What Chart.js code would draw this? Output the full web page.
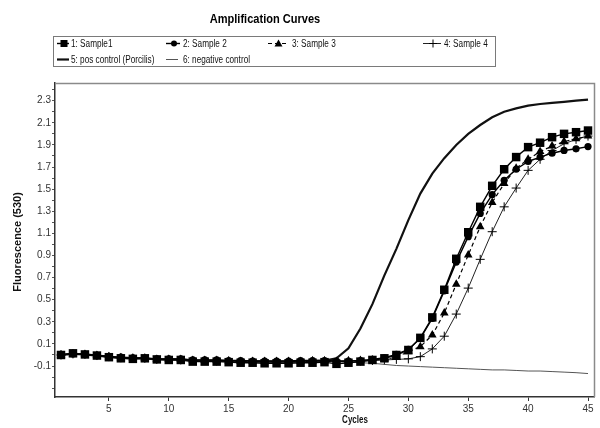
<!DOCTYPE html>
<html>
<head>
<meta charset="utf-8">
<script src="https://cdn.jsdelivr.net/npm/chart.js@4/dist/chart.umd.min.js"></script>
<style>
  html, body { margin: 0; padding: 0; background: #fff; }
  #wrap { width: 600px; height: 428px; position: relative; }
</style>
</head>
<body>
<div id="wrap"><canvas id="c" width="600" height="428"></canvas></div>
<script>
// ---- data ----
const cycles = [1,2,3,4,5,6,7,8,9,10,11,12,13,14,15,16,17,18,19,20,21,22,23,24,25,26,27,28,29,30,31,32,33,34,35,36,37,38,39,40,41,42,43,44,45];

const sample1 = [0.000,0.015,0.005,-0.005,-0.020,-0.030,-0.035,-0.030,-0.040,-0.045,-0.045,-0.060,-0.060,-0.060,-0.065,-0.070,-0.070,-0.075,-0.075,-0.075,-0.070,-0.070,-0.065,-0.080,-0.070,-0.060,-0.045,-0.030,0.000,0.045,0.155,0.340,0.590,0.870,1.110,1.340,1.530,1.680,1.790,1.880,1.920,1.970,2.000,2.015,2.030];

const sample2 = [0.005,0.010,0.005,-0.005,-0.015,-0.020,-0.025,-0.030,-0.035,-0.035,-0.035,-0.045,-0.045,-0.045,-0.050,-0.050,-0.055,-0.055,-0.055,-0.055,-0.050,-0.050,-0.050,-0.055,-0.055,-0.050,-0.040,-0.025,0.005,0.050,0.150,0.330,0.580,0.840,1.070,1.280,1.450,1.580,1.680,1.750,1.790,1.825,1.850,1.865,1.885];

const sample3 = [0.000,0.010,0.005,-0.005,-0.015,-0.025,-0.030,-0.030,-0.040,-0.040,-0.040,-0.050,-0.050,-0.050,-0.055,-0.060,-0.060,-0.060,-0.060,-0.060,-0.060,-0.055,-0.055,-0.060,-0.055,-0.050,-0.045,-0.040,-0.020,0.030,0.075,0.180,0.380,0.640,0.905,1.160,1.380,1.550,1.690,1.770,1.840,1.890,1.930,1.955,1.980];

const sample4 = [0.000,0.010,0.005,-0.005,-0.015,-0.025,-0.030,-0.030,-0.040,-0.040,-0.045,-0.050,-0.050,-0.055,-0.055,-0.060,-0.060,-0.060,-0.060,-0.060,-0.060,-0.055,-0.055,-0.060,-0.055,-0.055,-0.050,-0.045,-0.040,-0.035,-0.015,0.055,0.170,0.370,0.605,0.865,1.115,1.340,1.510,1.670,1.770,1.850,1.910,1.950,1.980];

const posControl = [0.000,0.010,0.005,-0.005,-0.015,-0.025,-0.030,-0.030,-0.040,-0.040,-0.040,-0.050,-0.050,-0.050,-0.055,-0.055,-0.055,-0.060,-0.060,-0.060,-0.055,-0.055,-0.050,-0.030,0.060,0.240,0.460,0.720,0.960,1.220,1.460,1.640,1.780,1.900,2.000,2.080,2.150,2.200,2.230,2.255,2.270,2.280,2.290,2.300,2.310];

const negControl = [0.000,0.010,0.005,-0.005,-0.015,-0.025,-0.030,-0.030,-0.040,-0.040,-0.040,-0.050,-0.050,-0.050,-0.055,-0.055,-0.055,-0.060,-0.060,-0.060,-0.060,-0.060,-0.060,-0.060,-0.065,-0.070,-0.075,-0.085,-0.095,-0.100,-0.105,-0.110,-0.115,-0.120,-0.125,-0.130,-0.135,-0.135,-0.140,-0.145,-0.145,-0.150,-0.155,-0.160,-0.168];

const seriesLabels = ["1: Sample1", "2: Sample 2", "3: Sample 3", "4: Sample 4", "5: pos control (Porcilis)", "6: negative control"];

const xTickValues = [5,10,15,20,25,30,35,40,45];
const yTickValues = [-0.3,-0.2,-0.1,0.0,0.1,0.2,0.3,0.4,0.5,0.6,0.7,0.8,0.9,1.0,1.1,1.2,1.3,1.4,1.5,1.6,1.7,1.8,1.9,2.0,2.1,2.2,2.3,2.4];
const yTickLabels = ["-0.1","0.1","0.3","0.5","0.7","0.9","1.1","1.3","1.5","1.7","1.9","2.1","2.3"];

const chartTitle = "Amplification Curves";
const xTitle = "Cycles";
const yTitle = "Fluorescence (530)";

// ---- chart ----
const SANS = "'Liberation Sans', Arial, sans-serif";

const datasets = [
  { label: seriesLabels[0], data: sample1, borderColor: '#000', backgroundColor: '#000', borderWidth: 1.4,
    pointStyle: 'rect', pointRadius: 6, pointBorderWidth: 0, pointBackgroundColor: '#000' },
  { label: seriesLabels[1], data: sample2, borderColor: '#000', backgroundColor: '#000', borderWidth: 1.4,
    pointStyle: 'circle', pointRadius: 3.6, pointBorderWidth: 0, pointBackgroundColor: '#000' },
  { label: seriesLabels[2], data: sample3, borderColor: '#000', backgroundColor: '#000', borderWidth: 1.2, borderDash: [4, 3],
    pointStyle: 'triangle', pointRadius: 5, pointBorderWidth: 0, pointBackgroundColor: '#000' },
  { label: seriesLabels[3], data: sample4, borderColor: '#222', backgroundColor: '#222', borderWidth: 1,
    pointStyle: 'cross', pointRadius: 4.5, pointBorderWidth: 1, pointBorderColor: '#000' },
  { label: seriesLabels[4], data: posControl, borderColor: '#111', backgroundColor: '#111', borderWidth: 2.2,
    pointRadius: 0 },
  { label: seriesLabels[5], data: negControl, borderColor: '#555', backgroundColor: '#555', borderWidth: 1,
    pointRadius: 0 }
];

const legendSlots = [
  { x0: 57, x1: 69, y: 43, tx: 71 },
  { x0: 166, x1: 180, y: 43, tx: 183 },
  { x0: 268, x1: 287, y: 43, tx: 292 },
  { x0: 423, x1: 441, y: 43, tx: 444 },
  { x0: 57, x1: 69, y: 59, tx: 71 },
  { x0: 166, x1: 178, y: 59, tx: 183 }
];

function drawMarker(ctx, style, x, y) {
  ctx.save();
  ctx.fillStyle = '#000';
  ctx.strokeStyle = '#000';
  ctx.setLineDash([]);
  if (style === 'rect') { ctx.fillRect(x - 3.5, y - 3.5, 7, 7); }
  else if (style === 'circle') { ctx.beginPath(); ctx.arc(x, y, 3, 0, Math.PI * 2); ctx.fill(); }
  else if (style === 'triangle') { ctx.beginPath(); ctx.moveTo(x, y - 4); ctx.lineTo(x + 4, y + 3); ctx.lineTo(x - 4, y + 3); ctx.closePath(); ctx.fill(); }
  else if (style === 'cross') { ctx.lineWidth = 1; ctx.beginPath(); ctx.moveTo(x - 4, y); ctx.lineTo(x + 4, y); ctx.moveTo(x, y - 4); ctx.lineTo(x, y + 4); ctx.stroke(); }
  ctx.restore();
}

// condensed text: real text drawn with a horizontal squeeze
function squeezedText(ctx, text, x, y, sx) {
  ctx.save();
  ctx.translate(x, y);
  ctx.scale(sx, 1);
  ctx.fillText(text, 0, 0);
  ctx.restore();
}

const decorPlugin = {
  id: 'decor',
  afterDraw(chart) {
    const ctx = chart.ctx;
    const a = chart.chartArea;
    ctx.save();
    // frame top and right
    ctx.strokeStyle = '#8a8a8a';
    ctx.lineWidth = 1.5;
    ctx.beginPath();
    ctx.moveTo(a.left, a.top + 0.5); ctx.lineTo(a.right + 0.5, a.top + 0.5); ctx.lineTo(a.right + 0.5, a.bottom);
    ctx.stroke();

    // title
    ctx.fillStyle = '#000';
    ctx.font = "bold 13px " + SANS;
    ctx.textAlign = 'center'; ctx.textBaseline = 'middle';
    squeezedText(ctx, chartTitle, 265, 19, 0.85);

    // legend box
    ctx.strokeStyle = '#7a7a7a';
    ctx.lineWidth = 1;
    ctx.strokeRect(53.5, 36.5, 442, 30);
    ctx.font = "10px " + SANS;
    ctx.textAlign = 'left'; ctx.textBaseline = 'middle';
    chart.data.datasets.forEach((ds, i) => {
      const s = legendSlots[i];
      ctx.save();
      ctx.strokeStyle = ds.borderColor;
      ctx.lineWidth = ds.borderWidth;
      ctx.setLineDash(ds.borderDash || []);
      ctx.beginPath(); ctx.moveTo(s.x0, s.y + 0.5); ctx.lineTo(s.x1, s.y + 0.5); ctx.stroke();
      ctx.restore();
      if (ds.pointRadius > 0) drawMarker(ctx, ds.pointStyle, (s.x0 + s.x1) / 2 + 1, s.y + 0.5);
      ctx.fillStyle = '#111';
      squeezedText(ctx, ds.label, s.tx, s.y + 1, 0.82);
    });

    // axis titles
    ctx.fillStyle = '#111';
    ctx.font = "bold 10px " + SANS;
    ctx.textAlign = 'center'; ctx.textBaseline = 'middle';
    squeezedText(ctx, xTitle, 355, 420, 0.8);
    ctx.save();
    ctx.translate(18, 242);
    ctx.rotate(-Math.PI / 2);
    ctx.font = "bold 11px " + SANS;
    ctx.fillText(yTitle, 0, 0);
    ctx.restore();
    ctx.restore();
  }
};

new Chart(document.getElementById('c'), {
  type: 'line',
  data: { labels: cycles, datasets: datasets },
  options: {
    responsive: false,
    animation: false,
    events: [],
    layout: { padding: { top: 83, right: 3, bottom: 0, left: 0 } },
    elements: { line: { tension: 0 } },
    plugins: { legend: { display: false }, title: { display: false }, tooltip: { enabled: false } },
    scales: {
      x: {
        type: 'linear', min: 0.5, max: 45.5,
        afterBuildTicks: (s) => { s.ticks = xTickValues.map(v => ({ value: v })); },
        afterFit: (s) => { s.height = 31; },
        grid: { drawOnChartArea: false, drawTicks: true, tickLength: 4, color: '#333' },
        border: { display: true, color: '#333', width: 1.5 },
        ticks: { color: '#333', font: { size: 10, family: SANS }, padding: 2, maxRotation: 0, autoSkip: false }
      },
      y: {
        type: 'linear', min: -0.38, max: 2.46,
        afterBuildTicks: (s) => { s.ticks = yTickValues.map(v => ({ value: v })); },
        afterFit: (s) => { s.width = 55; },
        grid: { drawOnChartArea: false, drawTicks: true, tickLength: 3, color: '#555' },
        border: { display: true, color: '#333', width: 1.5 },
        ticks: {
          color: '#333', font: { size: 10, family: SANS }, padding: 1, autoSkip: false,
          callback: (v) => { const t = v.toFixed(1).replace('-0.0', '0.0'); return yTickLabels.includes(t) ? t : ''; }
        }
      }
    }
  },
  plugins: [decorPlugin]
});
</script>
</body>
</html>
